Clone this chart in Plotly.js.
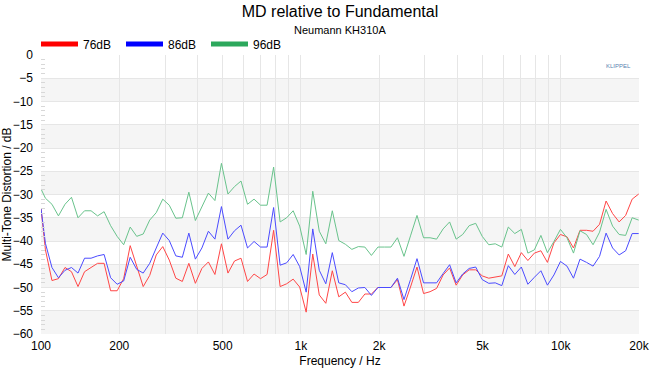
<!DOCTYPE html>
<html>
<head>
<meta charset="utf-8">
<script src="https://cdn.plot.ly/plotly-3.0.1.min.js"></script>
<style>html,body{margin:0;padding:0;background:#fff;}#chart{width:660px;height:371px;}</style>
</head>
<body>
<div id="chart"></div>
<script>
// Frequencies (Hz)
var freq = [100, 104.0, 110.2, 116.7, 123.7, 131.0, 138.8, 147.1, 155.8, 165.1, 174.9, 185.3, 196.3, 208.0, 220.4, 233.5, 247.3, 262.0, 277.6, 294.1, 311.6, 330.2, 349.8, 370.6, 392.6, 416.0, 440.7, 466.9, 494.7, 524.1, 555.3, 588.3, 623.3, 660.4, 699.6, 741.2, 785.3, 832.0, 881.5, 933.9, 989.4, 1048, 1111, 1177, 1247, 1321, 1399, 1483, 1571, 1664, 1763, 1868, 1979, 2096, 2221, 2353, 2493, 2641, 2798, 2965, 3141, 3328, 3526, 3735, 3958, 4193, 4442, 4706, 4986, 5283, 5597, 5930, 6282, 6656, 7052, 7471, 7915, 8386, 8884, 9413, 9972, 10565, 11193, 11859, 12564, 13311, 14102, 14941, 15829, 16771, 17768, 18824, 19944];

var md76 = [-33.0, -41.9, -48.5, -48.1, -45.7, -46.6, -49.8, -46.6, -45.7, -44.8, -44.8, -50.7, -50.7, -48.1, -41.0, -45.2, -49.8,
  -47.4, -43.0, -41.2, -44.1, -48.0, -48.7, -44.8, -49.1, -45.9, -44.5, -47.2, -40.6, -46.9, -44.3, -43.7, -48.7, -47.1,
  -48.1, -47.2, -37.7, -49.8, -49.2, -48.2, -49.9, -55.3, -42.8, -51.6, -53.4, -46.4, -52.0, -51.0, -53.2, -53.2,
  -51.4, -51.4, -50.0, -50.0, -50.0, -48.3, -54.0, -49.9, -45.6, -51.3, -50.9, -50.2, -47.3, -45.8, -49.5,
  -47.3, -46.2, -46.2, -47.5, -48.0, -47.7, -47.5, -42.8, -45.5, -42.5, -44.2, -42.6, -42.1, -44.6,
  -40.4, -38.6, -39.1, -41.5, -37.7, -37.7, -37.9, -36.4, -31.4, -34.1, -35.9, -34.5, -31.0, -29.9];

var md86 = [-33.0, -40.5, -45.7, -47.9, -46.3, -45.7, -46.9, -43.7, -43.7, -43.2, -42.9, -47.9, -49.3, -48.6, -43.5, -46.1, -46.9,
  -44.8, -41.5, -38.3, -39.9, -43.2, -43.5, -38.3, -43.9, -41.5, -37.9, -39.6, -32.6, -39.6, -37.8, -36.6, -41.5, -40.1,
  -41.3, -41.3, -32.8, -45.2, -44.7, -42.9, -45.5, -51.0, -37.4, -46.3, -49.2, -42.5, -49.0, -49.4, -50.9, -50.1,
  -50.0, -51.7, -50.0, -50.0, -50.0, -48.0, -52.6, -48.3, -43.8, -49.0, -49.0, -49.0, -47.0, -45.1, -49.0,
  -47.1, -45.9, -45.6, -48.3, -49.1, -49.0, -49.6, -45.3, -47.2, -45.6, -49.3, -47.8, -46.4, -49.5,
  -47.3, -44.4, -45.4, -48.0, -43.9, -44.6, -45.4, -43.3, -38.3, -41.5, -43.0, -42.1, -38.4, -38.4];

var md96 = [-28.8, -30.8, -32.1, -34.6, -32.1, -30.6, -35.0, -33.5, -33.5, -34.6, -33.7, -36.7, -39.0, -40.8, -37.0, -39.0, -38.5,
  -35.5, -33.9, -31.0, -32.3, -35.1, -35.0, -29.5, -35.6, -32.6, -29.7, -31.3, -23.3, -29.9, -28.3, -27.1, -32.1, -31.0,
  -32.3, -32.3, -24.1, -35.9, -35.0, -33.5, -36.8, -42.9, -29.3, -37.9, -40.6, -33.5, -39.9, -40.7, -41.8, -41.2,
  -41.3, -43.1, -41.3, -41.3, -41.3, -39.3, -43.3, -38.9, -34.5, -39.3, -39.3, -39.6, -37.4, -35.9, -39.6,
  -38.6, -36.7, -36.2, -39.0, -40.8, -40.6, -41.3, -37.0, -38.4, -37.5, -42.6, -41.9, -38.8, -42.5,
  -40.1, -37.5, -39.3, -42.6, -37.8, -38.6, -40.8, -38.1, -33.2, -36.8, -38.6, -38.8, -35.0, -35.5];

var seriesNames = ['76dB', '86dB', '96dB'];
var lineColors = ['rgb(255,70,70)', 'rgb(75,75,255)', 'rgb(105,195,140)'];
var legendColors = ['#ff0000', '#0000ff', '#2ca85c'];

var xTickVals = [100,200,300,400,500,600,700,800,900,1000,2000,3000,4000,5000,6000,7000,8000,9000,10000,20000];
var xTickText = ['100','200','','','500','','','','','1k','2k','','','5k','','','','','10k','20k'];

var ys = [md76, md86, md96];
var traces = [];
for (var i = 0; i < 3; i++) {
  traces.push({x: freq, y: ys[i], type: 'scatter', mode: 'lines', name: seriesNames[i],
    line: {color: lineColors[i], width: 1}, showlegend: false, hoverinfo: 'x+y'});
}
for (var j = 0; j < 3; j++) {
  traces.push({x: [null], y: [null], type: 'scatter', mode: 'lines', name: seriesNames[j],
    line: {color: legendColors[j], width: 5}, showlegend: true});
}

var shapes = [];
for (var b = -10; b >= -60; b -= 10) {
  shapes.push({type: 'rect', xref: 'paper', yref: 'y', x0: 0, x1: 1, y0: b, y1: b + 5,
    fillcolor: '#f5f5f5', line: {width: 0}, layer: 'below'});
}

var layout = {
  width: 660, height: 371,
  margin: {l: 41, r: 21, t: 55, b: 37, pad: 0},
  paper_bgcolor: '#ffffff', plot_bgcolor: '#ffffff',
  font: {family: 'Liberation Sans, Arial, sans-serif', size: 12, color: '#000'},
  title: {text: 'MD relative to Fundamental', font: {size: 16, color: '#000'},
    x: 0.5, xanchor: 'center', xref: 'paper', yref: 'container', y: 0.968, yanchor: 'middle'},
  annotations: [
    {text: 'Neumann KH310A', xref: 'paper', yref: 'paper', x: 0.5, y: (334 - 30) / 279,
      xanchor: 'center', yanchor: 'middle', showarrow: false, font: {size: 11, color: '#000'}},
    {text: 'KLIPPEL', xref: 'paper', yref: 'paper', x: 0.965, y: (334 - 66) / 279,
      xanchor: 'center', yanchor: 'middle', showarrow: false, font: {size: 6, color: '#5a7fb0'}}
  ],
  showlegend: true,
  legend: {orientation: 'h', x: -5 / 598, xanchor: 'left', y: (334 - 44) / 279, yanchor: 'middle',
    font: {size: 12, color: '#000'}, bgcolor: 'rgba(0,0,0,0)', itemwidth: 37,
    entrywidth: 33, entrywidthmode: 'pixels', traceorder: 'normal'},
  xaxis: {type: 'log', range: [2, Math.log10(20000)], tickvals: xTickVals, ticktext: xTickText,
    showgrid: true, gridcolor: '#e6e6e6', gridwidth: 1, showline: false, zeroline: false,
    ticks: '', tickfont: {size: 12}, ticklabelstandoff: 3,
    title: {text: 'Frequency / Hz', font: {size: 12}, standoff: 4}},
  yaxis: {range: [-60, 0], tick0: 0, dtick: 5, showgrid: true, gridcolor: '#e6e6e6', gridwidth: 1,
    showline: false, zeroline: false, ticks: '', tickfont: {size: 12}, ticklabelstandoff: 7,
    minor: {dtick: 1, ticks: 'inside', ticklen: 4, tickcolor: '#d8d8d8', showgrid: false},
    title: {text: 'Multi-Tone Distortion / dB', font: {size: 12}, standoff: 6}},
  shapes: shapes
};

Plotly.newPlot('chart', traces, layout, {displayModeBar: false, staticPlot: true});
</script>
</body>
</html>
